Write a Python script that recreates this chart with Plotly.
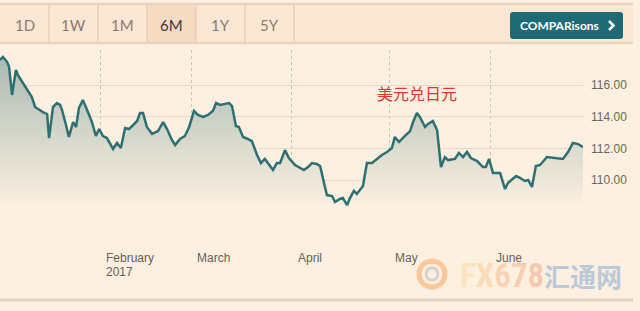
import pandas as pd
import plotly.graph_objects as go

# USD/JPY, six-month view starting January 2017
day_offsets = [
    0.2, 1.1, 2.4, 3.0, 3.9, 5.1, 5.7, 7.0, 7.9, 8.8, 10.0, 11.0, 11.9, 13.4, 14.7,
    15.3, 16.5, 17.7, 18.7, 19.3, 20.5, 21.4, 22.7, 23.6, 24.5, 25.7, 27.0, 28.5,
    29.7, 30.7, 31.9, 33.1, 35.0, 36.2, 37.4, 38.7, 39.9, 41.1, 42.4, 43.3, 44.2,
    45.4, 47.0, 48.8, 50.4, 51.6, 53.1, 54.1, 55.6, 57.1, 58.4, 59.9, 61.1, 62.7,
    64.2, 65.7, 66.7, 67.9, 69.4, 70.7, 71.6, 72.8, 73.7, 75.0, 76.5, 77.7, 79.3,
    80.5, 81.7, 83.0, 84.2, 85.4, 86.4, 87.9, 89.1, 91.0, 92.5, 93.7, 95.0, 96.2,
    97.7, 98.7, 100.2, 100.8, 102.4, 103.3, 104.8, 105.7, 107.0, 107.9, 109.1,
    110.0, 111.9, 113.1, 114.7, 116.2, 117.7, 119.3, 120.8, 121.7, 123.0, 124.5,
    126.4, 127.3, 128.5, 129.4, 131.0, 131.9, 133.4, 134.7, 135.9, 137.1, 138.1,
    140.2, 141.4, 142.7, 143.9, 145.1, 147.0, 148.8, 149.7, 150.7, 151.9, 154.1,
    155.6, 156.5, 159.0, 160.2, 161.7, 162.7, 163.9, 165.1, 166.4, 168.5, 170.4,
    173.4, 175.0, 176.5, 178.1, 179.6,
]
usdjpy = [
    117.58, 117.77, 117.45, 117.14, 115.37, 116.95, 116.63, 116.19, 115.87, 115.56,
    115.24, 114.61, 114.48, 114.29, 114.17, 112.65, 114.61, 114.86, 114.74, 114.42,
    113.47, 112.72, 113.66, 113.35, 114.55, 115.05, 114.42, 113.66, 112.78, 113.22,
    112.78, 112.65, 111.96, 112.34, 112.02, 113.28, 113.22, 113.47, 113.73, 114.23,
    114.23, 113.35, 112.91, 113.09, 113.66, 113.22, 112.53, 112.21, 112.59, 112.78,
    113.35, 114.36, 114.11, 113.98, 114.11, 114.36, 114.86, 114.74, 114.80, 114.86,
    114.67, 113.41, 113.35, 112.72, 112.59, 112.46, 111.58, 111.07, 111.33, 110.95,
    110.63, 111.07, 111.07, 111.89, 111.39, 110.95, 110.76, 110.63, 110.82, 111.07,
    111.01, 110.88, 109.56, 109.05, 108.99, 108.61, 108.80, 108.86, 108.42, 108.86,
    109.31, 109.12, 109.62, 111.07, 111.07, 111.33, 111.58, 111.77, 112.02, 112.72,
    112.40, 112.72, 113.09, 113.66, 114.23, 113.98, 113.35, 113.54, 113.73, 113.16,
    110.82, 111.45, 111.26, 111.33, 111.71, 111.45, 111.77, 111.39, 111.20, 110.82,
    110.82, 111.33, 110.44, 110.44, 109.43, 109.81, 110.25, 110.13, 109.94, 110.00,
    109.56, 110.88, 110.95, 111.45, 111.39, 111.33, 111.77, 112.34, 112.27, 112.08,
]

y_ticks = [110, 112, 114, 116]
month_starts = ["2017-02-01", "2017-03-01", "2017-04-01", "2017-05-01", "2017-06-01"]
month_labels = ["February<br>2017", "March", "April", "May", "June"]
range_buttons = ["1D", "1W", "1M", "6M", "1Y", "5Y"]
active_range = "6M"
pair_label = "美元兑日元"
brand_latin = "FX678"
brand_cjk = "汇通网"

W, H = 640, 311
M_L, M_R, M_T, M_B = 0, 57, 50, 61
PLOT_W = W - M_L - M_R
PLOT_H = H - M_T - M_B
BG = "#fdf0e1"
LINE = "#2d6f73"


def px(x):
    """Page pixel column -> paper x (paper spans the plot area)."""
    return (x - M_L) / PLOT_W


def py(y):
    """Page pixel row -> paper y."""
    return (H - M_B - y) / PLOT_H


dates = pd.Timestamp("2017-01-01") + pd.to_timedelta(day_offsets, unit="D")

fig = go.Figure()
fig.add_trace(go.Scatter(
    x=dates, y=usdjpy, mode="lines",
    line=dict(color=LINE, width=2.5),
    fill="tozeroy",
    fillgradient=dict(type="vertical", start=108.2, stop=117.9,
                      colorscale=[[0, BG], [0.4, "#dbdbce"], [1, "#a9b9b2"]]),
    hoverinfo="skip", showlegend=False,
))

shapes = []
annotations = []

# range selector bar
shapes.append(dict(type="rect", xref="paper", yref="paper",
                   x0=px(0), x1=px(633), y0=py(43), y1=py(4),
                   fillcolor="#fbe7d3", line=dict(width=0), layer="below"))
btn_w = 49
for i, lab in enumerate(range_buttons):
    x0 = i * btn_w
    if lab == active_range:
        shapes.append(dict(type="rect", xref="paper", yref="paper",
                           x0=px(x0), x1=px(x0 + btn_w), y0=py(43), y1=py(4),
                           fillcolor="#f6dbc3", line=dict(width=0), layer="below"))
    shapes.append(dict(type="line", xref="paper", yref="paper",
                       x0=px(x0 + btn_w), x1=px(x0 + btn_w), y0=py(43), y1=py(4),
                       line=dict(color="#e6d1bd", width=1.5)))
    annotations.append(dict(
        x=px(x0 + btn_w / 2), y=py(25), xref="paper", yref="paper",
        text=lab, showarrow=False, xanchor="center", yanchor="middle",
        font=dict(family="Lato", size=15,
                  color="#3d3733" if lab == active_range else "#8a7b6e"),
    ))
for yy in (4, 43):
    shapes.append(dict(type="line", xref="paper", yref="paper",
                       x0=px(0), x1=px(633), y0=py(yy), y1=py(yy),
                       line=dict(color="#e8d4c1", width=2.5)))

# comparisons button
bx0, bx1, by0, by1, r = 510, 623, 12, 39, 3
path = (f"M {px(bx0 + r)},{py(by0)} L {px(bx1 - r)},{py(by0)} "
        f"Q {px(bx1)},{py(by0)} {px(bx1)},{py(by0 + r)} L {px(bx1)},{py(by1 - r)} "
        f"Q {px(bx1)},{py(by1)} {px(bx1 - r)},{py(by1)} L {px(bx0 + r)},{py(by1)} "
        f"Q {px(bx0)},{py(by1)} {px(bx0)},{py(by1 - r)} L {px(bx0)},{py(by0 + r)} "
        f"Q {px(bx0)},{py(by0)} {px(bx0 + r)},{py(by0)} Z")
shapes.append(dict(type="path", xref="paper", yref="paper", path=path,
                   fillcolor="#1f6b75", line=dict(width=0)))
annotations.append(dict(
    x=px(518), y=py(25.5), xref="paper", yref="paper", text="<b>COMPARisons</b>",
    showarrow=False, xanchor="left", yanchor="middle",
    font=dict(family="Lato", size=12, color="#ffffff"),
))
shapes.append(dict(type="path", xref="paper", yref="paper",
                   path=f"M {px(609)},{py(21)} L {px(613.5)},{py(25.5)} L {px(609)},{py(30)}",
                   line=dict(color="#ffffff", width=2.5)))

# month labels beside the gridlines
for d, lab in zip(month_starts, month_labels):
    for k, part in enumerate(lab.split("<br>")):
        annotations.append(dict(
            x=d, xref="x", y=py(258 + 14 * k), yref="paper", text=part,
            showarrow=False, xanchor="left", yanchor="middle", xshift=4,
            font=dict(family="Liberation Sans", size=12, color="#66615c"),
        ))

# series label
annotations.append(dict(
    x=px(375), y=py(93), xref="paper", yref="paper", text=pair_label,
    showarrow=False, xanchor="left", yanchor="middle",
    font=dict(family="Noto Sans CJK SC", size=16, color="#e0372f"),
))

# bottom rule
shapes.append(dict(type="line", xref="paper", yref="paper",
                   x0=px(0), x1=px(633), y0=py(300), y1=py(300),
                   line=dict(color="#e3d1bf", width=3)))

# watermark: ring logo, latin brand with warm gradient, CJK brand in pale blue
shapes.append(dict(type="circle", xref="paper", yref="paper",
                   x0=px(419), x1=px(445), y0=py(287), y1=py(261),
                   line=dict(color="rgba(245,165,95,0.55)", width=5)))
shapes.append(dict(type="circle", xref="paper", yref="paper",
                   x0=px(426), x1=px(438), y0=py(280), y1=py(268),
                   line=dict(color="rgba(150,150,150,0.35)", width=3)))
warm = ["rgba(250,215,150,0.75)", "rgba(248,200,140,0.75)", "rgba(246,185,135,0.75)",
        "rgba(244,172,132,0.75)", "rgba(242,160,130,0.75)"]
latin_html = "".join(f"<span style='color:{c}'>{ch}</span>" for ch, c in zip(brand_latin, warm))
annotations.append(dict(
    x=px(458), y=py(275), xref="paper", yref="paper", text=f"<b>{latin_html}</b>",
    showarrow=False, xanchor="left", yanchor="middle",
    font=dict(family="Liberation Sans Narrow, Roboto Condensed, DejaVu Sans Condensed, Roboto",
              size=33, color="rgba(244,170,110,0.7)"),
))
annotations.append(dict(
    x=px(542), y=py(275), xref="paper", yref="paper", text=f"<b>{brand_cjk}</b>",
    showarrow=False, xanchor="left", yanchor="middle",
    font=dict(family="Noto Sans CJK SC", size=26, color="rgba(140,175,210,0.6)"),
))

fig.update_layout(
    width=W, height=H,
    margin=dict(l=M_L, r=M_R, t=M_T, b=M_B, pad=0),
    paper_bgcolor=BG, plot_bgcolor=BG,
    shapes=shapes, annotations=annotations,
    hovermode=False,
    xaxis=dict(
        type="date", range=[dates[0], dates[-1]],
        tickvals=month_starts, showticklabels=False, ticks="",
        showgrid=True, gridcolor="#cfc0b0", griddash="dot", gridwidth=1,
        zeroline=False, showline=False, fixedrange=True,
    ),
    yaxis=dict(
        side="right", range=[105.58, 118.21],
        tickvals=y_ticks, ticktext=[f"{v:.2f}" for v in y_ticks],
        ticks="", ticklabelstandoff=7,
        tickfont=dict(family="Liberation Sans", size=12, color="#6b6560"),
        showgrid=True, gridcolor="#e6d9c9", gridwidth=1,
        zeroline=False, showline=False, fixedrange=True,
    ),
)

fig.write_html("out.html")
